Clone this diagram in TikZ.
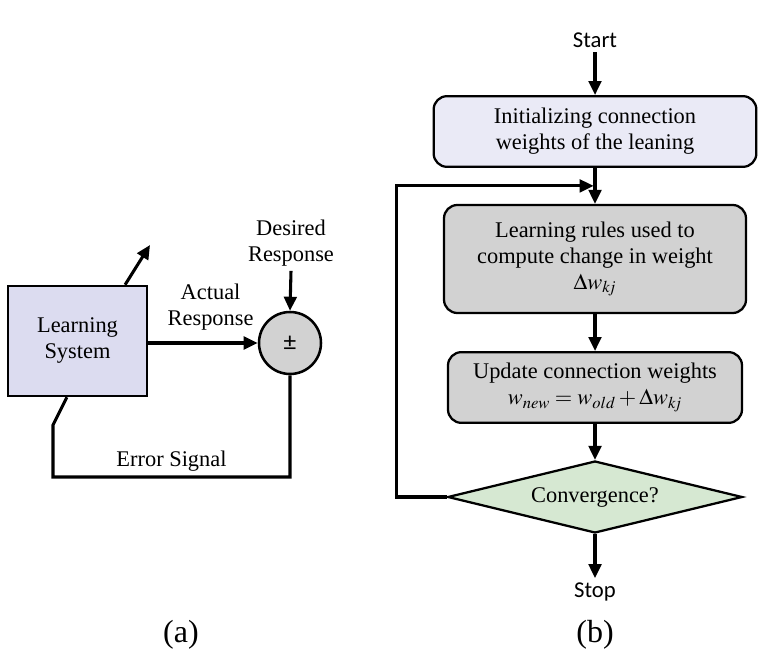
\documentclass[tikz,border=0pt]{standalone}
\usepackage{mathptmx}
\usepackage{fontspec}
\setmainfont{Liberation Serif}
\newfontfamily\calfont{Carlito}
\usepackage{tikz}
\usetikzlibrary{arrows.meta,calc,shapes.geometric,positioning}
\definecolor{lsblue}{RGB}{220,220,240}
\definecolor{initblue}{RGB}{234,234,246}
\definecolor{boxgray}{RGB}{210,210,210}
\definecolor{convgreen}{RGB}{214,232,210}

\begin{document}
\begin{tikzpicture}[x=0.75pt,y=-0.75pt,
  every node/.style={font=\fontsize{16.8}{19.5}\selectfont},
  line/.style={line width=2.3pt},
  arr/.style={line, -{Triangle[length=10.5pt,width=9.5pt]}},
  flow/.style={draw, line width=1.7pt, rounded corners=10pt, align=center, inner sep=0pt},
  sans/.style={font=\calfont\fontsize{17}{19}\selectfont}]
\useasboundingbox (0,0) rectangle (760,659);

% (a) learning system
\node[draw, line width=1.9pt, fill=lsblue, minimum width=104pt, minimum height=82.5pt, align=center] (ls) at (77.5,341) {Learning\\System};
\node[circle, draw, line width=1.9pt, fill=boxgray, minimum size=46.5pt, inner sep=0pt, font=\calfont\fontsize{19}{21}\selectfont] (sum) at (290,343) {±};
\node[align=center] (des) at (291,243) {Desired\\Response};
\coordinate (adapt) at (150,245);

\draw[arr] ($(ls.north east)+(-23,0)$) -- (adapt);
\draw[arr] (ls.east |- sum) -- node[above=5pt, align=center, pos=0.57]{Actual\\Response} (sum.west);
\draw[arr] (des.south) -- (sum.north);
\draw[line] (sum.south) |- node[pos=0.75, above]{Error Signal} (53,477) -- (53,425) -- ($(ls.south west)+(60,0)$);

\node[font=\fontsize{24}{28}\selectfont] (cap a) at (181,635) {(a)};

% (b) flow chart
\node[sans] (start) at (595,40) {Start};
\node[flow, fill=initblue, minimum width=242pt, minimum height=53pt] (init) at (595,131.5) {Initializing connection\\weights of the leaning};
\node[flow, fill=boxgray, minimum width=226.5pt, minimum height=81pt] (rules) at (595,259) {Learning rules used to\\compute change in weight\\$\Delta w_{k\!j}$};
\node[flow, fill=boxgray, minimum width=220.5pt, minimum height=53pt] (update) at (595,387.5) {Update connection weights\\$w_{new} = w_{old} + \Delta w_{k\!j}$};
\node[diamond, draw, line width=1.7pt, fill=convgreen, aspect=4, minimum width=221pt, minimum height=54pt, inner sep=0pt] (conv) at (595,497) {Convergence?};
\node[sans] (stop) at (595,592) {Stop};
\coordinate (merge) at ($(init.south)!0.5!(rules.north)$);

\draw[arr] (start) -- (init);
\draw[arr] (init) -- (rules);
\draw[arr] (rules) -- (update);
\draw[arr] (update) -- (conv);
\draw[arr] (conv) -- (stop);
\draw[arr] (conv.west) -- ++(-50,0) |- ([xshift=-1pt]merge);

\node[font=\fontsize{24}{28}\selectfont] (cap b) at (595,635) {(b)};
\end{tikzpicture}
\end{document}
